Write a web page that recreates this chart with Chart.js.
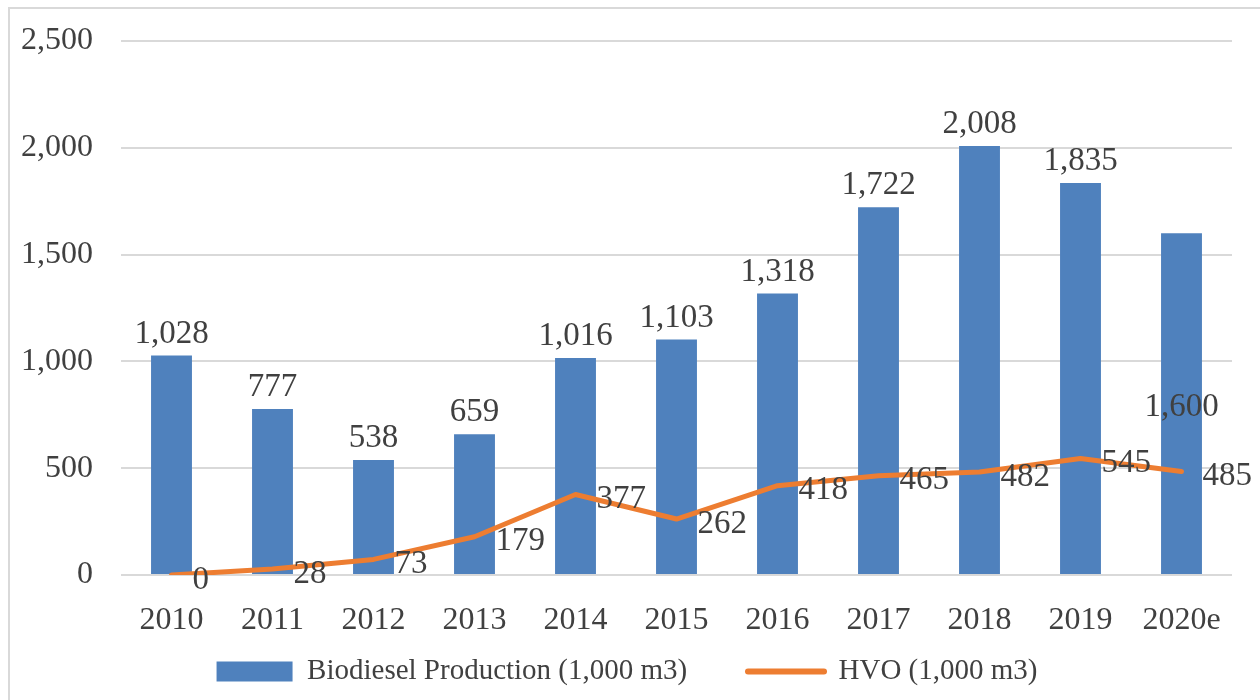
<!DOCTYPE html>
<html>
<head>
<meta charset="utf-8">
<script src="https://cdn.jsdelivr.net/npm/chart.js@4.4.1/dist/chart.umd.min.js"></script>
<style>
  html, body { margin: 0; padding: 0; background: #fff; }
  canvas { display: block; }
</style>
</head>
<body>
<canvas id="chart" width="1260" height="700"></canvas>
<script>
const years = ["2010", "2011", "2012", "2013", "2014", "2015", "2016", "2017", "2018", "2019", "2020e"];
const biodiesel = [1028, 777, 538, 659, 1016, 1103, 1318, 1722, 2008, 1835, 1600];
const hvo = [0, 28, 73, 179, 377, 262, 418, 465, 482, 545, 485];
const yTicks = [0, 500, 1000, 1500, 2000, 2500];

const BLUE = "#4F81BD";
const ORANGE = "#ED7D31";
const TEXT = "#404040";
const FONT = '"Liberation Serif", "Times New Roman", serif';

const fmt = v => v.toLocaleString("en-US");

// white background plus the light frame around the figure
const frame = {
    id: "frame",
    beforeDraw(chart) {
        const ctx = chart.ctx;
        ctx.save();
        ctx.fillStyle = "#fff";
        ctx.fillRect(0, 0, chart.width, chart.height);
        ctx.strokeStyle = "#d9d9d9";
        ctx.lineWidth = 2;
        ctx.strokeRect(9, 8, chart.width + 20, chart.height + 20);
        ctx.restore();
    }
};

// value labels: above the bars, to the right of the line points
const valueLabels = {
    id: "valueLabels",
    afterDatasetsDraw(chart, args, opts) {
        const ctx = chart.ctx;
        const y = chart.scales.y;
        ctx.save();
        ctx.font = "33px " + FONT;
        ctx.fillStyle = TEXT;

        ctx.textAlign = "center";
        chart.getDatasetMeta(1).data.forEach((bar, i) => {
            if (i === opts.shiftedIndex) {
                // the 2020e label sits inside the bar in the source
                ctx.textBaseline = "middle";
                ctx.fillText(fmt(biodiesel[i]), bar.x, y.getPixelForValue(opts.shiftedAt));
            } else {
                ctx.textBaseline = "bottom";
                ctx.fillText(fmt(biodiesel[i]), bar.x, bar.y - 5);
            }
        });

        ctx.textAlign = "left";
        ctx.textBaseline = "middle";
        chart.getDatasetMeta(0).data.forEach((pt, i) => {
            ctx.fillText(fmt(hvo[i]), pt.x + 21, pt.y + 5);
        });
        ctx.restore();
    }
};

const ctx = document.getElementById("chart").getContext("2d");
new Chart(ctx, {
    data: {
        labels: years,
        datasets: [
            {
                type: "line",
                label: "HVO (1,000 m3)",
                data: hvo,
                borderColor: ORANGE,
                backgroundColor: ORANGE,
                borderWidth: 5,
                borderCapStyle: "round",
                borderJoinStyle: "round",
                pointRadius: 0,
                tension: 0,
                order: 0
            },
            {
                type: "bar",
                label: "Biodiesel Production (1,000 m3)",
                data: biodiesel,
                backgroundColor: BLUE,
                barPercentage: 0.405,
                categoryPercentage: 1,
                order: 1
            }
        ]
    },
    options: {
        responsive: false,
        animation: false,
        layout: { padding: { top: 41, right: 28, left: 22, bottom: 4 } },
        scales: {
            x: {
                grid: { display: false },
                border: { display: false },
                ticks: { color: TEXT, font: { family: FONT, size: 32 }, padding: 18 },
                afterFit: s => { s.height = 72; }
            },
            y: {
                min: 0,
                max: 2500,
                afterBuildTicks(axis) { axis.ticks = yTicks.map(v => ({ value: v })); },
                grid: { color: "#d9d9d9", lineWidth: 2, drawTicks: false },
                border: { display: false },
                ticks: {
                    color: TEXT,
                    font: { family: FONT, size: 32 },
                    padding: 28,
                    callback: v => fmt(v)
                },
                afterFit: s => { s.width = 99; s.paddingTop = 0; s.paddingBottom = 0; }
            }
        },
        plugins: {
            legend: {
                position: "bottom",
                labels: {
                    color: TEXT,
                    font: { family: FONT, size: 29 },
                    usePointStyle: true,
                    pointStyleWidth: 76,
                    boxHeight: 20,
                    padding: 10,
                    generateLabels: () => [
                        { text: "Biodiesel Production (1,000 m3)\u2003\u2002 ", fillStyle: BLUE, strokeStyle: BLUE,
                          lineWidth: 0, pointStyle: "rect", datasetIndex: 1, fontColor: TEXT },
                        { text: "HVO (1,000 m3)", fillStyle: ORANGE, strokeStyle: ORANGE,
                          lineWidth: 6, lineCap: "round", pointStyle: "line", datasetIndex: 0, fontColor: TEXT }
                    ]
                }
            },
            tooltip: { enabled: false },
            valueLabels: { shiftedIndex: 10, shiftedAt: 783 }
        }
    },
    plugins: [frame, valueLabels]
});
</script>
</body>
</html>
